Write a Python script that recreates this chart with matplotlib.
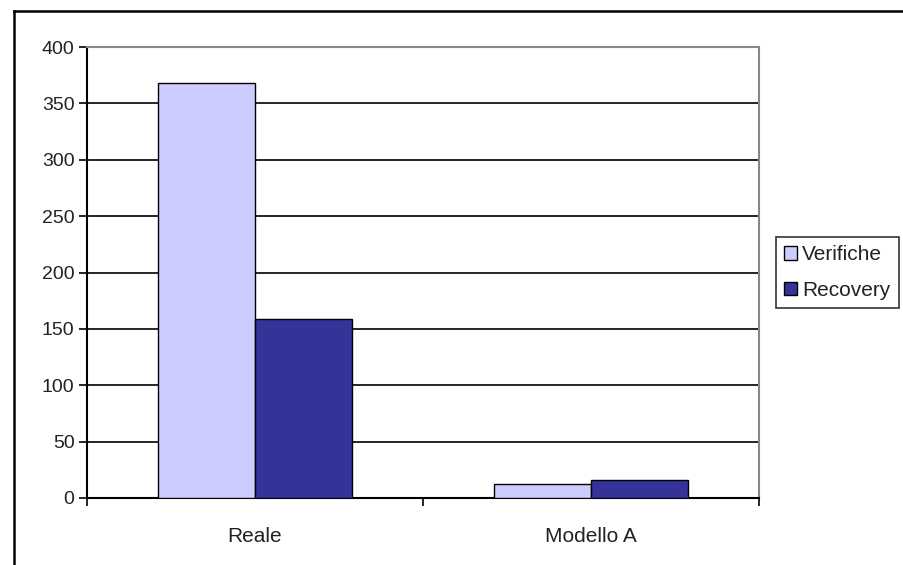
import matplotlib
matplotlib.use("Agg")
import matplotlib.pyplot as plt
import numpy as np
from matplotlib.lines import Line2D

categories = ["Reale", "Modello A"]
series_names = ["Verifiche", "Recovery"]
verifiche = [368, 12]
recovery = [159, 16]
yticks = [0, 50, 100, 150, 200, 250, 300, 350, 400]

colors = ["#CCCCFF", "#333399"]

plt.rcParams['font.family'] = ['Liberation Sans', 'DejaVu Sans']

W, H = 904, 565
fig = plt.figure(figsize=(W / 100, H / 100), dpi=100)
fig.patch.set_facecolor("white")

# outer chart frame (top and left lines)
fig.add_artist(Line2D([14 / W, 1.0], [1 - 11 / H, 1 - 11 / H], transform=fig.transFigure, color="black", lw=1.8))
fig.add_artist(Line2D([14 / W, 14 / W], [0.0, 1 - 11 / H], transform=fig.transFigure, color="black", lw=1.8))

left, right, bottom, top = 87 / W, 759 / W, (H - 498) / H, (H - 47) / H
ax = fig.add_axes([left, bottom, right - left, top - bottom])

x = np.arange(len(categories))
bw = 0.29
ax.bar(x - bw / 2, verifiche, bw, color=colors[0], edgecolor="black", linewidth=1.0, label=series_names[0], zorder=3)
ax.bar(x + bw / 2, recovery, bw, color=colors[1], edgecolor="black", linewidth=1.0, label=series_names[1], zorder=3)

ax.set_xlim(-0.5, len(categories) - 0.5)
ax.set_ylim(0, 400)
ax.set_yticks(yticks)
ax.set_yticklabels([str(v) for v in yticks], fontsize=14, color="#222222")
ax.yaxis.grid(True, color="black", linewidth=1.2, zorder=0)
ax.set_axisbelow(True)

# x: labels at centers, ticks at boundaries
ax.set_xticks(np.arange(-0.5, len(categories), 1.0))
ax.set_xticklabels([])
ax.set_xticks(x, minor=True)
ax.set_xticklabels(categories, minor=True, fontsize=15, color="#222222")
ax.tick_params(axis="x", which="major", direction="out", length=6, width=1.2, color="black")
ax.tick_params(axis="x", which="minor", length=0, pad=21)
ax.tick_params(axis="y", direction="out", length=6, width=1.2, color="black", pad=3)

for s in ["top", "right"]:
    ax.spines[s].set_color("#888888")
    ax.spines[s].set_linewidth(1.5)
for s in ["left", "bottom"]:
    ax.spines[s].set_color("black")
    ax.spines[s].set_linewidth(1.5)

leg = fig.legend(loc="upper left", bbox_to_anchor=(776 / W, 1 - 237 / H),
                 fontsize=15, frameon=True, fancybox=False, edgecolor="black",
                 handlelength=0.6, handleheight=0.6, handletextpad=0.25,
                 borderpad=0.4, labelspacing=0.8, borderaxespad=0)
leg.get_frame().set_linewidth(1.2)
for t in leg.get_texts():
    t.set_color("#222222")
for p in leg.get_patches():
    p.set_edgecolor("black")

fig.savefig("out.png", dpi=100)
